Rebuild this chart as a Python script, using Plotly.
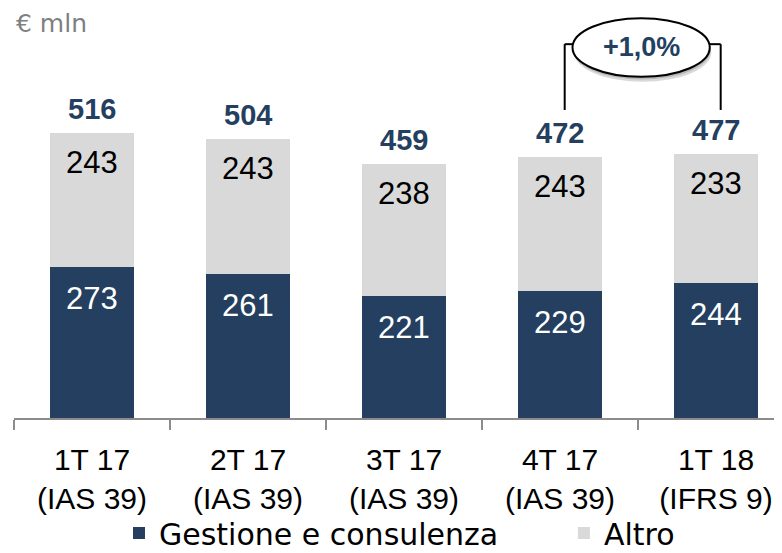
import plotly.graph_objects as go

categories = ["1T 17<br>(IAS 39)", "2T 17<br>(IAS 39)", "3T 17<br>(IAS 39)", "4T 17<br>(IAS 39)", "1T 18<br>(IFRS 9)"]
gestione = [273, 261, 221, 229, 244]
altro = [243, 243, 238, 243, 233]
totals = [516, 504, 459, 472, 477]
delta_label = "+1,0%"

NAVY = "#243F60"
GREY = "#D9D9D9"
FONT = "Liberation Sans, Arial, sans-serif"
WIDE = "DejaVu Sans, sans-serif"

x = list(range(len(categories)))

fig = go.Figure()
fig.add_trace(go.Bar(x=x, y=gestione, name="Gestione e consulenza", marker_color=NAVY,
                     marker_line_width=0, legend="legend"))
fig.add_trace(go.Bar(x=x, y=altro, name="Altro", marker_color=GREY, marker_line_width=0,
                     legend="legend2"))

ann = []
for i in x:
    ann.append(dict(x=i, y=gestione[i], text=str(gestione[i]), showarrow=False, yanchor="top",
                    yshift=-12, font=dict(family=FONT, size=31, color="white")))
    ann.append(dict(x=i, y=gestione[i] + altro[i], text=str(altro[i]), showarrow=False, yanchor="top",
                    yshift=-10, font=dict(family=FONT, size=31, color="black")))
    ann.append(dict(x=i, y=totals[i], text="<b>%d</b>" % totals[i], showarrow=False, yanchor="bottom",
                    yshift=6, font=dict(family=FONT, size=29, color=NAVY)))

ann.append(dict(xref="paper", yref="paper", x=0, y=0.962, xanchor="left", yanchor="middle",
                text="€ mln", showarrow=False, font=dict(family=WIDE, size=25, color="#7F7F7F")))

# bracket + ellipse for growth
e_x0, e_x1 = 3.08, 3.96
e_y0, e_y1 = 617, 723
yb, yt = 557, 676
shapes = [
    dict(type="line", xref="x", yref="y", x0=3.03, x1=3.03, y0=yb, y1=yt, line=dict(color="black", width=2)),
    dict(type="line", xref="x", yref="y", x0=3.03, x1=e_x0, y0=yt, y1=yt, line=dict(color="black", width=2)),
    dict(type="line", xref="x", yref="y", x0=4.03, x1=4.03, y0=yb, y1=yt, line=dict(color="black", width=2)),
    dict(type="line", xref="x", yref="y", x0=e_x1, x1=4.03, y0=yt, y1=yt, line=dict(color="black", width=2)),
    dict(type="circle", xref="x", yref="y", x0=e_x0 + 0.01, x1=e_x1 + 0.01, y0=e_y0 - 9, y1=e_y1 - 9,
         fillcolor="rgba(0,0,0,0.15)", line=dict(width=0)),
    dict(type="circle", xref="x", yref="y", x0=e_x0 + 0.005, x1=e_x1 + 0.005, y0=e_y0 - 5, y1=e_y1 - 5,
         fillcolor="rgba(0,0,0,0.15)", line=dict(width=0)),
    dict(type="circle", xref="x", yref="y", x0=e_x0, x1=e_x1, y0=e_y0, y1=e_y1,
         fillcolor="white", line=dict(color="black", width=2)),
]
ann.append(dict(x=(e_x0 + e_x1) / 2, y=(e_y0 + e_y1) / 2, text="<b>" + delta_label + "</b>", showarrow=False,
                font=dict(family=FONT, size=27, color=NAVY)))

legend_common = dict(orientation="h", yanchor="middle", y=-0.2805, xanchor="left",
                     font=dict(family=WIDE, size=30, color="black"), itemwidth=30,
                     bgcolor="rgba(0,0,0,0)")

fig.update_layout(
    barmode="stack",
    bargap=0.46,
    width=774, height=545,
    margin=dict(l=6, r=0, t=0, b=135, autoexpand=False),
    plot_bgcolor="white", paper_bgcolor="white",
    font=dict(family=FONT, size=30, color="black"),
    annotations=ann,
    shapes=shapes,
    showlegend=True,
    legend=dict(x=0.1367, **legend_common),
    legend2=dict(x=0.716, **legend_common),
    xaxis=dict(
        range=[-0.5, 4.423],
        tickmode="array", tickvals=x, ticktext=categories, ticks="",
        showline=True, linecolor="#8C8C8C", linewidth=2,
        showgrid=False, zeroline=False, automargin=False,
        ticklabelstandoff=14,
        tickfont=dict(family=FONT, size=30, color="black"),
        minor=dict(tickmode="array", tickvals=[-0.5, 0.5, 1.5, 2.5, 3.5], ticks="outside",
                   ticklen=10, tickwidth=2, tickcolor="#8C8C8C", showgrid=False),
    ),
    yaxis=dict(range=[0, 741.4], visible=False, showgrid=False, zeroline=False, automargin=False),
)

fig.write_html("out.html")
